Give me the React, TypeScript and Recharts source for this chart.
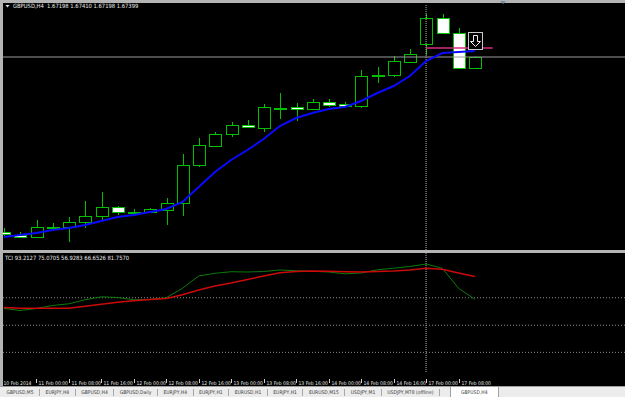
import React from 'react';
import { ComposedChart, Bar, Line, XAxis, YAxis, ReferenceLine, ReferenceDot } from 'recharts';

// GBPUSD H4, 10 Feb 16:00 .. 17 Feb 12:00
const opens = [1.64197, 1.64142, 1.64105, 1.64288, 1.64288, 1.6438, 1.64489, 1.64654, 1.64563, 1.64563, 1.64599, 1.64727, 1.65423, 1.6577, 1.6599, 1.66155, 1.661, 1.66466, 1.66484, 1.66447, 1.66576, 1.66539, 1.66502, 1.6707, 1.6707, 1.67308, 1.67637, 1.68113, 1.67838, 1.67198];
const highs = [1.6427, 1.64197, 1.64416, 1.64361, 1.64471, 1.64764, 1.64929, 1.64672, 1.64617, 1.64635, 1.64819, 1.65624, 1.65917, 1.66027, 1.6621, 1.66246, 1.66539, 1.6674, 1.66557, 1.6663, 1.6663, 1.66576, 1.67161, 1.67216, 1.67417, 1.67545, 1.68186, 1.68186, 1.6793, 1.6741];
const lows = [1.64087, 1.64087, 1.64087, 1.64233, 1.64014, 1.6427, 1.64416, 1.64508, 1.64508, 1.64545, 1.64325, 1.64489, 1.65386, 1.6577, 1.65935, 1.661, 1.66027, 1.66264, 1.66228, 1.66447, 1.66484, 1.66484, 1.66466, 1.66923, 1.67033, 1.67289, 1.67436, 1.67838, 1.67198, 1.67198];
const closes = [1.6416, 1.64105, 1.64288, 1.64292, 1.6438, 1.64489, 1.64654, 1.64563, 1.64568, 1.64617, 1.64727, 1.65423, 1.65789, 1.6599, 1.66155, 1.66118, 1.66484, 1.6646, 1.66447, 1.66576, 1.66521, 1.66502, 1.67051, 1.67075, 1.67326, 1.67454, 1.68113, 1.67838, 1.67198, 1.67399];
const maValues = [1.64105, 1.64142, 1.64178, 1.64233, 1.6427, 1.64325, 1.64398, 1.64471, 1.64508, 1.64563, 1.64617, 1.64746, 1.6502, 1.65295, 1.65514, 1.65697, 1.65898, 1.66136, 1.66283, 1.66374, 1.66447, 1.66484, 1.66594, 1.6674, 1.66868, 1.67051, 1.67326, 1.67472, 1.67491, 1.67509];

// TCI sub-window
const tciGreen = [60.54, 59.21, 60.54, 62.53, 63.66, 66.32, 68.31, 67.85, 66.32, 66.52, 67.7, 73.96, 82.13, 83.93, 84.99, 84.79, 85.12, 86.12, 85.59, 85.26, 84.79, 83.59, 84.13, 86.25, 87.32, 88.45, 90.11, 87.25, 73.96, 66.65];
const tciRed = [61.2, 60.67, 60.67, 60.67, 60.67, 62.06, 63.39, 64.72, 65.72, 66.45, 67.18, 69.7, 72.83, 75.49, 77.48, 79.81, 82.13, 84.33, 85.12, 85.46, 85.26, 84.92, 84.79, 85.12, 85.46, 86.12, 87.25, 86.59, 84.13, 81.76];
const tciLevels = [67.7, 49.4, 31.4];

const axisTicks = [0, 2, 4, 6, 8, 10, 12, 14, 16, 18, 20, 22, 24, 26, 28];
const axisLabels = ['10 Feb 2014', '11 Feb 00:00', '11 Feb 08:00', '11 Feb 16:00', '12 Feb 00:00', '12 Feb 08:00', '12 Feb 16:00', '13 Feb 00:00', '13 Feb 08:00', '13 Feb 16:00', '14 Feb 00:00', '14 Feb 08:00', '14 Feb 16:00', '17 Feb 00:00', '17 Feb 08:00'];

const tabs = ['GBPUSD,M5', 'EURJPY,H4', 'GBPUSD,H4', 'GBPUSD,Daily', 'EURJPY,H4', 'EURJPY,H1', 'EURUSD,H1', 'EURJPY,H1', 'EURUSD,M15', 'USDJPY,M1', 'USDJPY,M78 (offline)'];
const activeTab = 'GBPUSD,H4';

const separatorBar = 26;
const trendFrom = 26;
const trendTo = 30.1;
const trendPrice = 1.67564;
const signalBar = 29;
const signalPrice = 1.67701;

const X_DOMAIN = [-0.05, 38.25];
const GREEN = '#00c000';
const FRAME = '#b4b4b4';
const FONT = '"Liberation Sans Narrow", "Arial Narrow", "DejaVu Sans Condensed", sans-serif';

const Candle = (props: any) => {
  const { x, y, width, height, payload } = props;
  const top = Math.min(y, y + height);
  const bot = Math.max(y, y + height);
  const span = payload.high - payload.low || 1;
  const toY = (p: number) => top + ((payload.high - p) / span) * (bot - top);
  const cx = Math.round(x + width / 2) + 0.5;
  const oY = toY(payload.open);
  const cY = toY(payload.close);
  const bTop = Math.round(Math.min(oY, cY)) + 0.5;
  const bBot = Math.max(Math.round(Math.max(oY, cY)) + 0.5, bTop + 1);
  const bull = payload.close >= payload.open;
  return (
    <g>
      <line x1={cx} x2={cx} y1={top} y2={bot} stroke={GREEN} />
      <rect x={cx - 6} y={bTop} width={12} height={bBot - bTop} fill={bull ? '#000' : '#fff'} stroke={GREEN} />
    </g>
  );
};

const SellIcon = ({ cx, cy }: any) => {
  const x = Math.round(cx) - 6.5;
  const y = Math.round(cy) - 8.5;
  return (
    <g>
      <rect x={x} y={y} width={14} height={17} fill="#000" stroke="#c8c8c8" />
      <path
        d={`M${x + 5} ${y + 3} h4 v6 h3 l-5 5 l-5 -5 h3 z`}
        fill="none"
        stroke="#f0f0f0"
      />
    </g>
  );
};

const TimeTick = ({ x, y, payload }: any) => {
  const i = axisTicks.indexOf(payload.value);
  const px = Math.round(x) + 0.5;
  return (
    <g>
      {i > 0 && <line x1={px} x2={px} y1={y + 7} y2={y + 11} stroke="#d0d0d0" />}
      <text x={i > 0 ? px + 2 : 0.5} y={y + 12.5} fill="#e6e6e6" fontSize={5} fontFamily={FONT}>
        {axisLabels[i]}
      </text>
    </g>
  );
};

export default function App() {
  const rows = opens.map((o, i) => ({
    x: i,
    open: o,
    high: highs[i],
    low: lows[i],
    close: closes[i],
    ma: maValues[i],
    green: tciGreen[i],
    red: tciRed[i],
  }));
  const last = rows[rows.length - 1];
  const header = `GBPUSD,H4  ${last.open.toFixed(5)} ${last.high.toFixed(5)} ${last.low.toFixed(5)} ${last.close.toFixed(5)}`;

  return (
    <div style={{ position: 'absolute', left: 0, top: 0, width: 625, height: 397, background: '#000', overflow: 'hidden', fontFamily: FONT }}>
      {/* window frame */}
      <div style={{ position: 'absolute', left: 0, top: 0, width: 625, height: 3, background: FRAME }} />
      <div style={{ position: 'absolute', left: 0, top: 0, width: 3, height: 386, background: FRAME }} />
      <div style={{ position: 'absolute', left: 0, top: 250, width: 625, height: 3, background: FRAME }} />
      <svg style={{ position: 'absolute', left: 500, top: 0 }} width={8} height={5}>
        <polygon points="0,1 6,1 3,4" fill="#7a8a9a" />
      </svg>

      {/* price window */}
      <div style={{ position: 'absolute', left: 3, top: 4, width: 622, height: 246, overflow: 'hidden' }}>
        <ComposedChart width={622} height={246} data={rows} margin={{ top: 0, right: 0, bottom: 0, left: 0 }}>
          <XAxis type="number" dataKey="x" domain={X_DOMAIN} allowDataOverflow hide />
          <YAxis type="number" domain={[1.63867, 1.68369]} allowDataOverflow hide />
          <ReferenceLine y={last.close} stroke="#9a9a9a" />
          <ReferenceLine x={separatorBar} stroke="#b0b0b0" strokeDasharray="1 1" />
          <Bar dataKey={(d: any) => [d.low, d.high]} barSize={13} shape={<Candle />} isAnimationActive={false} />
          <Line type="linear" dataKey="ma" stroke="#0a0aff" strokeWidth={2} dot={false} isAnimationActive={false} />
          <ReferenceLine
            segment={[{ x: trendFrom, y: trendPrice }, { x: trendTo, y: trendPrice }]}
            stroke="#d42c7c"
            strokeWidth={1.5}
          />
          <ReferenceDot x={signalBar} y={signalPrice} shape={<SellIcon />} />
        </ComposedChart>
      </div>
      <div style={{ position: 'absolute', left: 5, top: 3, color: '#e8e8e8', fontSize: 5.8, lineHeight: '6px', whiteSpace: 'pre', display: 'flex', alignItems: 'center' }}>
        <svg width={6} height={6} style={{ marginRight: 2 }}>
          <polygon points="0.5,2 4.5,2 2.5,4.5" fill="#e8e8e8" />
        </svg>
        {header}
      </div>

      {/* TCI window */}
      <div style={{ position: 'absolute', left: 3, top: 253, width: 622, height: 133, overflow: 'hidden' }}>
        <ComposedChart width={622} height={133} data={rows} margin={{ top: 0, right: 0, bottom: 0, left: 0 }}>
          <XAxis
            type="number"
            dataKey="x"
            domain={X_DOMAIN}
            allowDataOverflow
            ticks={axisTicks}
            interval={0}
            height={14}
            tickSize={0}
            tickMargin={0}
            axisLine={false}
            tickLine={false}
            tick={<TimeTick />}
          />
          <YAxis type="number" domain={[18.34, 97.42]} allowDataOverflow hide />
          {tciLevels.map((v) => (
            <ReferenceLine key={v} y={v} stroke="#8c8c8c" strokeDasharray="1 2" />
          ))}
          <ReferenceLine x={separatorBar} stroke="#b0b0b0" strokeDasharray="1 1" />
          <Line type="linear" dataKey="green" stroke="#0c7a0c" strokeWidth={1} dot={false} isAnimationActive={false} />
          <Line type="linear" dataKey="red" stroke="#cc0a0a" strokeWidth={1.5} dot={false} isAnimationActive={false} />
        </ComposedChart>
      </div>
      <div style={{ position: 'absolute', left: 5, top: 255, color: '#e8e8e8', fontSize: 5.8, lineHeight: '6px', whiteSpace: 'pre' }}>
        TCI 93.2127 75.0705 56.9283 66.6526 81.7570
      </div>

      {/* symbol tabs */}
      <div style={{ position: 'absolute', left: 0, top: 386, width: 625, height: 11, background: '#ececec', borderTop: '1px solid #a0a0a0', boxSizing: 'border-box', display: 'flex', alignItems: 'center', fontSize: 5, color: '#3a3a3a', paddingLeft: 1 }}>
        {tabs.map((t, i) => (
          <div key={i} style={{ padding: '0 5.5px', borderRight: '1px solid #a8a8a8', lineHeight: '7px', whiteSpace: 'pre' }}>
            {t}
          </div>
        ))}
        <div style={{ marginLeft: 10, padding: '0 10px', height: 11, lineHeight: '10px', background: '#fff', border: '1px solid #a0a0a0', borderTop: 'none', boxSizing: 'border-box', whiteSpace: 'pre' }}>
          {activeTab}
        </div>
      </div>
    </div>
  );
}
